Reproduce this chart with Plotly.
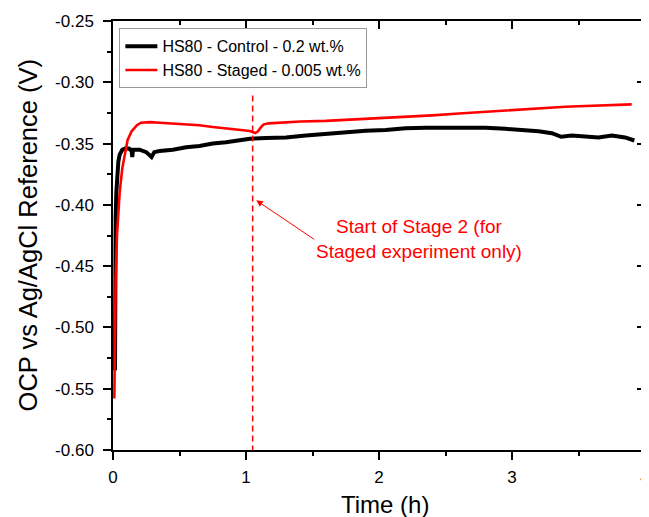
import plotly.graph_objects as go

# ---- data ----
red_t = [0.010, 0.015, 0.02, 0.03, 0.04, 0.05, 0.07, 0.094, 0.11, 0.14, 0.18, 0.21, 0.28, 0.35,
         0.45, 0.55, 0.65, 0.75, 0.85, 0.95, 1.03, 1.07, 1.09, 1.11, 1.13, 1.17, 1.25, 1.41, 1.6,
         1.8, 2.0, 2.2, 2.4, 2.6, 2.8, 3.0, 3.2, 3.4, 3.5, 3.6, 3.75, 3.9]
red_v = [-0.558, -0.500, -0.460, -0.425, -0.405, -0.390, -0.370, -0.354, -0.347, -0.340, -0.335,
         -0.333, -0.3325, -0.333, -0.3335, -0.334, -0.335, -0.3365, -0.3375, -0.339, -0.3398,
         -0.3414, -0.340, -0.337, -0.3345, -0.3335, -0.333, -0.332, -0.3315, -0.3305, -0.3295,
         -0.328, -0.327, -0.3255, -0.324, -0.3225, -0.321, -0.320, -0.3195, -0.319, -0.3185, -0.318]

black_t = [0.015, 0.016, 0.018, 0.02, 0.025, 0.03, 0.04, 0.05, 0.07, 0.09, 0.12, 0.14, 0.145,
           0.15, 0.2, 0.25, 0.29, 0.31, 0.35, 0.45, 0.55, 0.65, 0.75, 0.85, 0.95, 1.03, 1.15, 1.3,
           1.45, 1.6, 1.75, 1.9, 2.05, 2.2, 2.35, 2.5, 2.65, 2.8, 2.95, 3.1, 3.2, 3.3, 3.37, 3.45,
           3.55, 3.65, 3.75, 3.85, 3.92]
black_v = [-0.535, -0.470, -0.430, -0.410, -0.390, -0.378, -0.365, -0.359, -0.355, -0.354,
           -0.354, -0.356, -0.361, -0.355, -0.355, -0.357, -0.361, -0.357, -0.356, -0.355,
           -0.353, -0.352, -0.350, -0.349, -0.347, -0.346, -0.3455, -0.345, -0.3435, -0.342,
           -0.341, -0.3395, -0.339, -0.3375, -0.337, -0.337, -0.3375, -0.337, -0.338, -0.339,
           -0.340, -0.3415, -0.3445, -0.3435, -0.344, -0.345, -0.3435, -0.345, -0.3475]

stage2_t = [1.05, 1.05]
stage2_v = [-0.3107, -0.60]

names = ["HS80 - Control - 0.2 wt.%", "HS80 - Staged - 0.005 wt.%"]

x_ticks = [0, 1, 2, 3, 4]
y_ticks = [-0.25, -0.30, -0.35, -0.40, -0.45, -0.50, -0.55, -0.60]
y_ticktext = ["-0.25", "-0.30", "-0.35", "-0.40", "-0.45", "-0.50", "-0.55", "-0.60"]
x_range = [0, 4]
y_range = [-0.60, -0.25]

x_title = "Time (h)"
y_title = "OCP vs Ag/AgCl Reference (V)"
note_text = "Start of Stage 2 (for<br>Staged experiment only)"
note_head = (1.077, -0.3963)
note_tail = (1.512, -0.4281)

FONT = "Arial, Liberation Sans, sans-serif"
RED = "#ff0000"

# the page body adds an 8px offset; the figure is sized so it ends at the window edge
PAGE_OFFSET = 8

fig = go.Figure()
fig.add_trace(go.Scatter(x=black_t, y=black_v, mode="lines", name=names[0],
                         line=dict(color="black", width=4)))
fig.add_trace(go.Scatter(x=red_t, y=red_v, mode="lines", name=names[1],
                         line=dict(color=RED, width=2.6)))
# dashed marker line lives on the mirrored (top/right) axes, which share the same ranges
fig.add_trace(go.Scatter(x=stage2_t, y=stage2_v, mode="lines", showlegend=False,
                         xaxis="x2", yaxis="y2",
                         line=dict(color=RED, width=1.5, dash="6px,4px")))

fig.add_annotation(x=note_head[0], y=note_head[1], ax=note_tail[0], ay=note_tail[1],
                   axref="x", ayref="y", xref="x", yref="y",
                   xanchor="left", yanchor="middle",
                   text=note_text, showarrow=True, arrowhead=2, arrowsize=1.3,
                   arrowwidth=1, arrowcolor=RED,
                   font=dict(family=FONT, size=19, color=RED), align="center")

# axis titles
fig.add_annotation(text=x_title, xref="paper", yref="paper", x=0.511, y=-0.126,
                   xanchor="center", yanchor="middle", showarrow=False,
                   font=dict(family=FONT, size=24, color="black"))
fig.add_annotation(text=y_title, xref="paper", yref="paper", x=-0.160, y=0.50,
                   xanchor="center", yanchor="middle", showarrow=False, textangle=-90,
                   font=dict(family=FONT, size=25.5, color="black"))

common = dict(showgrid=False, zeroline=False, tickcolor="black", tickwidth=1.5,
              automargin=False)
minor_x = dict(dtick=0.5, ticklen=4, tickcolor="black", tickwidth=1.5)
minor_y = dict(dtick=0.025, tick0=-0.6, ticklen=4, tickcolor="black", tickwidth=1.5)

fig.update_layout(
    width=649 - PAGE_OFFSET, height=517 - PAGE_OFFSET,
    margin=dict(l=112.5 - PAGE_OFFSET, r=3.5, t=20.5 - PAGE_OFFSET, b=67, autoexpand=False),
    paper_bgcolor="white", plot_bgcolor="white",
    font=dict(family=FONT, size=17, color="black"),
    showlegend=True,
    legend=dict(x=0.012, y=0.983, xanchor="left", yanchor="top",
                bordercolor="#999999", borderwidth=1, bgcolor="rgba(255,255,255,0)",
                font=dict(family=FONT, size=16), tracegroupgap=0, itemwidth=32),
    xaxis=dict(range=x_range, tickvals=x_ticks, ticks="outside", ticklen=8,
               showline=True, linecolor="black", linewidth=1.5, mirror=True,
               ticklabeloverflow="allow", ticklabelstandoff=3,
               minor=dict(ticks="outside", **minor_x),
               tickfont=dict(size=17), **common),
    yaxis=dict(range=y_range, tickvals=y_ticks, ticktext=y_ticktext, ticks="outside",
               ticklen=8, showline=True, linecolor="black", linewidth=1.5, mirror=True,
               ticklabeloverflow="allow", ticklabelstandoff=6,
               minor=dict(ticks="outside", **minor_y),
               tickfont=dict(size=17), **common),
    xaxis2=dict(range=x_range, overlaying="x", side="top", anchor="y2", tickvals=x_ticks,
                ticks="inside", ticklen=8, showticklabels=False, showline=False,
                minor=dict(ticks="inside", **minor_x), **common),
    yaxis2=dict(range=y_range, overlaying="y", side="right", anchor="x2", tickvals=y_ticks,
                ticks="inside", ticklen=8, showticklabels=False, showline=False,
                minor=dict(ticks="inside", **minor_y), **common),
)

fig.write_html("out.html")
